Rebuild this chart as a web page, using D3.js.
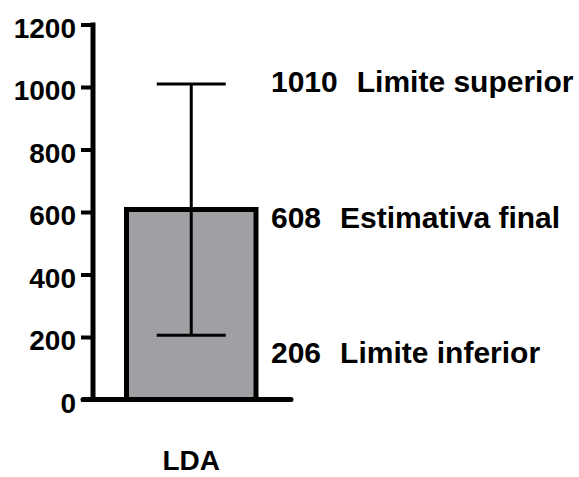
<!DOCTYPE html>
<html>
<head>
<meta charset="utf-8">
<script src="https://cdn.jsdelivr.net/npm/d3@7"></script>
<style>
    body { margin: 0; background: #fff; }
    svg text { font-family: "Liberation Sans", Arial, Helvetica, sans-serif; font-weight: bold; fill: #000; }
</style>
</head>
<body>
<svg id="chart" width="579" height="477"></svg>
<script>
// Data
var categories = ["LDA"];
var estimate = [608];
var lower = [206];
var upper = [1010];
var yTicks = [0, 200, 400, 600, 800, 1000, 1200];
var annotationValues = [1010, 608, 206];
var annotationLabels = ["Limite superior", "Estimativa final", "Limite inferior"];

var svg = d3.select("#chart");

// Layout
var axisX = 93, axisRight = 291;
var y = d3.scaleLinear().domain([0, 1200]).range([399.5, 24.5]);
var x = d3.scaleBand().domain(categories).range([126.5, 256]).padding(0);

// Bar
svg.selectAll("rect.bar")
    .data(categories)
    .enter()
    .append("rect")
    .attr("class", "bar")
    .attr("x", function(d) { return x(d); })
    .attr("y", function(d, i) { return y(estimate[i]); })
    .attr("width", x.bandwidth())
    .attr("height", function(d, i) { return y(0) - y(estimate[i]); })
    .attr("fill", "#a09fa4")
    .attr("stroke", "#000")
    .attr("stroke-width", 5);

// Error bars
var capHalf = 34.5;
var err = svg.selectAll("g.err")
    .data(categories)
    .enter()
    .append("g")
    .attr("class", "err")
    .attr("stroke", "#000")
    .attr("stroke-width", 3);

err.append("line")
    .attr("x1", function(d) { return x(d) + x.bandwidth() / 2; })
    .attr("x2", function(d) { return x(d) + x.bandwidth() / 2; })
    .attr("y1", function(d, i) { return y(lower[i]); })
    .attr("y2", function(d, i) { return y(upper[i]); });

[upper, lower].forEach(function(arr) {
    err.append("line")
        .attr("x1", function(d) { return x(d) + x.bandwidth() / 2 - capHalf; })
        .attr("x2", function(d) { return x(d) + x.bandwidth() / 2 + capHalf; })
        .attr("y1", function(d, i) { return y(arr[i]); })
        .attr("y2", function(d, i) { return y(arr[i]); });
});

// Y axis
var yAxis = d3.axisLeft(y).tickValues(yTicks).tickFormat(d3.format("d")).tickSize(12).tickPadding(5);
var gy = svg.append("g")
    .attr("transform", "translate(" + axisX + ",0)")
    .call(yAxis);
gy.select(".domain").remove();
gy.selectAll(".tick line").attr("stroke", "#000").attr("stroke-width", 4);
gy.selectAll(".tick text")
    .attr("font-size", 28)
    .attr("dy", "0.45em");

gy.append("line")
    .attr("x1", 0).attr("x2", 0)
    .attr("y1", y(1200) - 2).attr("y2", y(0) + 2.5)
    .attr("stroke", "#000")
    .attr("stroke-width", 5);

// X axis
svg.append("line")
    .attr("x1", axisX - 10).attr("x2", axisRight)
    .attr("y1", y(0)).attr("y2", y(0))
    .attr("stroke", "#000")
    .attr("stroke-width", 5)
    .attr("stroke-linecap", "round");

svg.selectAll("text.cat")
    .data(categories)
    .enter()
    .append("text")
    .attr("class", "cat")
    .attr("x", function(d) { return x(d) + x.bandwidth() / 2; })
    .attr("y", 470)
    .attr("text-anchor", "middle")
    .attr("font-size", 28)
    .text(function(d) { return d; });

// Annotations to the right of the bar
var annotationDy = [8, 18.5, 28];
var ann = svg.selectAll("text.ann")
    .data(annotationValues)
    .enter()
    .append("text")
    .attr("class", "ann")
    .attr("x", 271)
    .attr("y", function(d, i) { return y(d) + annotationDy[i]; })
    .attr("font-size", 30);

ann.append("tspan").text(function(d) { return d; });
ann.append("tspan").attr("dx", 19).text(function(d, i) { return annotationLabels[i]; });
</script>
</body>
</html>
